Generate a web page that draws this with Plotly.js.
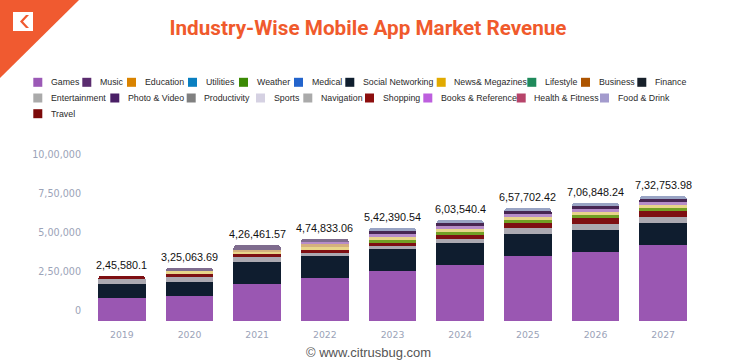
<!DOCTYPE html>
<html>
<head>
<meta charset="utf-8">
<script src="https://cdn.plot.ly/plotly-3.0.1.min.js"></script>
<style>html,body{margin:0;padding:0;background:#fff;}#chart{width:736px;height:364px;}</style>
</head>
<body>
<div id="chart"></div>
<script>
// ---------------- DATA ----------------
const years = ['2019','2020','2021','2022','2023','2024','2025','2026','2027'];
const totalLabels = ['2,45,580.1','3,25,063.69','4,26,461.57','4,74,833.06','5,42,390.54','6,03,540.4','6,57,702.42','7,06,848.24','7,32,753.98'];
const yTickVals = [0, 250000, 500000, 750000, 1000000];
const yTickText = ['0', '2,50,000', '5,00,000', '7,50,000', '10,00,000'];

const games            = [149000, 159900, 236600, 276900, 321600, 358100, 415600, 441200, 486000];
const socialNetworking = [87600, 89500, 142600, 138700, 138700, 140700, 140700, 140700, 140700];
const entertainment    = [30000, 32000, 30000, 17300, 19200, 25600, 38400, 38400, 38400];
const shopping         = [21100, 19200, 17300, 23000, 19200, 25600, 32000, 38400, 38400];
const weather          = [null, null, null, null, 19200, 19200, 19200, 19200, 19200];
const newsMagazines    = [null, 17300, 16600, 17300, 19200, 21100, 19200, 19200, 19200];
const business         = [null, null, 12800, 17300, null, null, null, null, null];
const booksReference   = [null, null, null, 16600, 19200, 17300, 19200, 19200, 19200];
const photoVideo       = [null, null, null, null, 19200, 19200, 19200, 19200, 19200];
const music            = [null, 23000, 30000, 21700, null, null, null, null, null];
const foodDrink        = [null, null, null, null, 21100, 19200, 19200, 19200, 19200];
const education = [], utilities = [], medical = [], lifestyle = [], finance = [],
      productivity = [], sports = [], navigation = [], healthFitness = [], travel = [];

// legend order (as in the reference)
const legendRows = [
  ['Games','Music','Education','Utilities','Weather','Medical','Social Networking','News& Megazines','Lifestyle','Business','Finance'],
  ['Entertainment','Photo & Video','Productivity','Sports','Navigation','Shopping','Books & Reference','Health & Fitness','Food & Drink'],
  ['Travel']
];

// stacking order bottom -> top
const stackSeries = [
  ['Games', games], ['Social Networking', socialNetworking], ['Entertainment', entertainment],
  ['Shopping', shopping], ['Weather', weather], ['News& Megazines', newsMagazines],
  ['Business', business], ['Books & Reference', booksReference], ['Photo & Video', photoVideo],
  ['Music', music], ['Food & Drink', foodDrink],
  ['Education', education], ['Utilities', utilities], ['Medical', medical], ['Lifestyle', lifestyle],
  ['Finance', finance], ['Productivity', productivity], ['Sports', sports], ['Navigation', navigation],
  ['Health & Fitness', healthFitness], ['Travel', travel]
];

// ---------------- STYLE ----------------
const legendColors = {
  'Games':'#9b59b6','Music':'#5b2c6f','Education':'#d98300','Utilities':'#0a7fc0','Weather':'#3b8a05',
  'Medical':'#2364cc','Social Networking':'#0f1e2e','News& Megazines':'#e1aa00','Lifestyle':'#1f8a5b',
  'Business':'#ad5400','Finance':'#17202a','Entertainment':'#aaaaaa','Photo & Video':'#4a1f66',
  'Productivity':'#808080','Sports':'#d5d1e2','Navigation':'#aaaaaa','Shopping':'#8c0e0e',
  'Books & Reference':'#bd5fde','Health & Fitness':'#b7446a','Food & Drink':'#a39bcd','Travel':'#7c0a0a'
};
const barColors = Object.assign({}, legendColors, {
  'Games':'#9a57b2','Social Networking':'#0f1d2f','Entertainment':'#aba9b1','Shopping':'#7e0f12',
  'Weather':'#72a024','News& Megazines':'#e8d58a','Business':'#d4b07e','Books & Reference':'#b68cc8',
  'Photo & Video':'#472652','Music':'#7f6c8e','Food & Drink':'#99a4c4'
});

const L = 88, R = 39, T = 165, B = 43, W = 736 - L - R, H = 364 - T - B;
const px = x => (x - L) / W;
const py = y => (T + H - y) / H;

const traces = stackSeries.filter(([, vals]) => vals.length).map(([name, vals]) => ({
  type: 'bar', name: name, x: years, y: vals,
  marker: { color: barColors[name] }, showlegend: false, hoverinfo: 'name+y'
}));

const totals = years.map((_, i) => stackSeries.reduce((s, [, v]) => s + (v[i] || 0), 0));

const annotations = years.map((yr, i) => ({
  x: i, y: totals[i], xref: 'x', yref: 'y', text: totalLabels[i], showarrow: false,
  yanchor: 'bottom', yshift: 3, font: { family: 'Liberation Sans, Arial, sans-serif', size: 10.8, color: '#111' }
}));

const shapes = [];
// legend
const rowY = [82.3, 98, 113.7];
const rowX = [
  [33.3, 82.3, 127, 188, 239, 294, 345.3, 436.7, 527.3, 581, 637.3],
  [33.3, 110.3, 186.7, 256, 303.3, 365, 423.3, 516.7, 600],
  [33.3]
];
legendRows.forEach((row, r) => row.forEach((name, k) => {
  const x0 = rowX[r][k], yc = rowY[r];
  shapes.push({ type: 'rect', xref: 'paper', yref: 'paper', x0: px(x0), x1: px(x0 + 9), y0: py(yc + 4.5), y1: py(yc - 4.5),
    fillcolor: legendColors[name], line: { width: 0 } });
  annotations.push({ xref: 'paper', yref: 'paper', x: px(x0 + 15.5), y: py(yc), xanchor: 'left', yanchor: 'middle',
    text: name, showarrow: false, font: { family: 'Liberation Sans, Arial, sans-serif', size: 8.8, color: '#2a2a2a' } });
}));

// logo corner
shapes.push({ type: 'path', xref: 'paper', yref: 'paper', fillcolor: '#f05a30', line: { width: 0 },
  path: `M ${px(0)} ${py(0)} L ${px(79)} ${py(0)} L ${px(0)} ${py(78)} Z` });
shapes.push({ type: 'rect', xref: 'paper', yref: 'paper', fillcolor: '#ffffff', line: { width: 0 },
  x0: px(13), x1: px(33), y0: py(31), y1: py(12) });
shapes.push({ type: 'path', xref: 'paper', yref: 'paper', fillcolor: '#f05a30', line: { width: 0 },
  path: `M ${px(26)} ${py(15)} L ${px(20)} ${py(21.5)} L ${px(26)} ${py(28)} L ${px(29)} ${py(28)} L ${px(23)} ${py(21.5)} L ${px(29)} ${py(15)} Z` });

// footer
annotations.push({ xref: 'paper', yref: 'paper', x: px(368), y: py(352.5), xanchor: 'center', yanchor: 'middle',
  text: '© www.citrusbug.com', showarrow: false, font: { family: 'Liberation Sans, Arial, sans-serif', size: 13, color: '#555' } });

const layout = {
  width: 736, height: 364,
  margin: { l: L, r: R, t: T, b: B, pad: 0 },
  paper_bgcolor: '#ffffff', plot_bgcolor: '#ffffff',
  barmode: 'stack', bargap: 0.3, barcornerradius: 3,
  showlegend: false,
  title: { text: 'Industry-Wise Mobile App Market Revenue', x: 0.5, xref: 'container', xanchor: 'center',
    y: 1 - 28 / 364, yref: 'container', yanchor: 'middle',
    font: { family: 'Roboto, Arial, sans-serif', size: 20.7, weight: 700, color: '#f05a2c' } },
  xaxis: { type: 'category', range: [-0.5, 8.5], autorange: false, showgrid: false, zeroline: false, showline: false, ticks: '',
    ticklabelstandoff: 7,
    tickfont: { family: 'DejaVu Sans, sans-serif', size: 9.3, color: '#9ba3b8' } },
  yaxis: { range: [0, 1000000], autorange: false, showgrid: false, zeroline: false, showline: false, ticks: '',
    tickvals: yTickVals, ticktext: yTickText, ticklabelshift: -10, ticklabelstandoff: 6,
    tickfont: { family: 'DejaVu Sans, sans-serif', size: 9.6, color: '#9ba3b8' } },
  annotations: annotations, shapes: shapes
};

Plotly.newPlot('chart', traces, layout, { displayModeBar: false, staticPlot: true });
</script>
</body>
</html>
